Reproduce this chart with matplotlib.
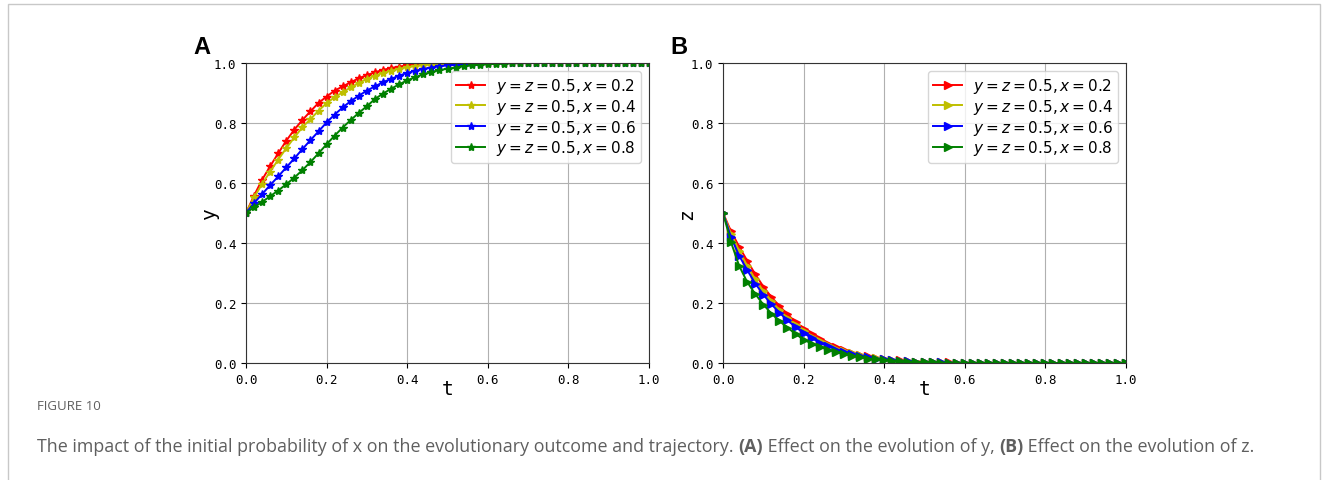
import numpy as np
import matplotlib
matplotlib.use("Agg")
import matplotlib.pyplot as plt
from matplotlib.patches import Rectangle

# time grid (step 0.02)
t = np.round(np.arange(51) * 0.02, 2)

# evolution of y for different initial x
y_x02 = [0.5, 0.558, 0.611, 0.656, 0.699, 0.741, 0.778, 0.810, 0.839, 0.867, 0.888,
         0.908, 0.922, 0.936, 0.949, 0.960, 0.969, 0.977, 0.983, 0.988, 0.992, 0.994,
         0.996, 0.997, 0.998, 0.999, 0.999] + [1.0] * 24
y_x04 = [0.5, 0.552, 0.597, 0.638, 0.678, 0.716, 0.752, 0.786, 0.813, 0.841, 0.866,
         0.886, 0.902, 0.919, 0.933, 0.947, 0.958, 0.967, 0.974, 0.981, 0.986, 0.990,
         0.993, 0.995, 0.997, 0.998, 0.999, 0.999] + [1.0] * 23
y_x06 = [0.5, 0.533, 0.563, 0.593, 0.622, 0.652, 0.682, 0.713, 0.743, 0.772, 0.802,
         0.828, 0.852, 0.873, 0.891, 0.908, 0.922, 0.936, 0.947, 0.958, 0.967, 0.974,
         0.980, 0.985, 0.989, 0.992, 0.994, 0.996, 0.997, 0.998, 0.999, 0.999] + [1.0] * 19
y_x08 = [0.5, 0.519, 0.537, 0.556, 0.575, 0.596, 0.618, 0.643, 0.670, 0.699, 0.729,
         0.758, 0.785, 0.810, 0.834, 0.856, 0.880, 0.898, 0.914, 0.929, 0.942, 0.953,
         0.962, 0.970, 0.976, 0.981, 0.985, 0.989, 0.992, 0.994, 0.996, 0.997, 0.998,
         0.999, 0.999] + [1.0] * 16

# evolution of z for different initial x
z_x02 = [0.5, 0.439, 0.388, 0.341, 0.296, 0.255, 0.220, 0.190, 0.162, 0.137, 0.115,
         0.096, 0.079, 0.065, 0.053, 0.043, 0.035, 0.028, 0.023, 0.018, 0.014, 0.011,
         0.009, 0.007, 0.005, 0.004, 0.003, 0.002, 0.002, 0.001, 0.001] + [0.0] * 20
z_x04 = [0.5, 0.430, 0.374, 0.324, 0.279, 0.240, 0.207, 0.176, 0.149, 0.126, 0.106,
         0.088, 0.072, 0.059, 0.048, 0.039, 0.032, 0.026, 0.021, 0.017, 0.013, 0.010,
         0.008, 0.006, 0.005, 0.004, 0.003, 0.002, 0.001, 0.001] + [0.0] * 21
z_x06 = [0.5, 0.419, 0.358, 0.310, 0.265, 0.228, 0.196, 0.168, 0.142, 0.120, 0.100,
         0.083, 0.068, 0.056, 0.045, 0.037, 0.030, 0.024, 0.019, 0.015, 0.012, 0.009,
         0.007, 0.006, 0.004, 0.003, 0.002, 0.002, 0.001, 0.001] + [0.0] * 21
z_x08 = [0.5, 0.402, 0.324, 0.270, 0.230, 0.195, 0.165, 0.140, 0.118, 0.097, 0.078,
         0.065, 0.054, 0.045, 0.037, 0.030, 0.024, 0.019, 0.015, 0.012, 0.010, 0.008,
         0.006, 0.005, 0.004, 0.003, 0.002, 0.001, 0.001] + [0.0] * 22

labels = [r"$y=z=0.5,x=0.2$", r"$y=z=0.5,x=0.4$",
          r"$y=z=0.5,x=0.6$", r"$y=z=0.5,x=0.8$"]
colors = ["r", "y", "b", "g"]
ticks = [0.0, 0.2, 0.4, 0.6, 0.8, 1.0]
tick_labels = ["0.0", "0.2", "0.4", "0.6", "0.8", "1.0"]

W, H = 1327, 481
fig = plt.figure(figsize=(W / 100, H / 100), dpi=100)
fig.patch.set_facecolor("white")

# outer frame
fig.add_artist(Rectangle((8 / W, -0.05), (1320 - 8) / W, 1.05 - 5 / H,
                         transform=fig.transFigure, fill=False,
                         edgecolor="#c8c8c8", linewidth=1.0))


def make_panel(left_px, series, marker, ylabel, letter):
    ax = fig.add_axes([left_px / W, 1 - 364 / H, 403 / W, 300 / H])
    for vals, c, lab in zip(series, colors, labels):
        ax.plot(t, vals, color=c, marker=marker, markersize=6, linewidth=1.4,
                label=lab)
    ax.set_xlim(0, 1)
    ax.set_ylim(0, 1)
    ax.set_xticks(ticks)
    ax.set_yticks(ticks)
    ax.set_xticklabels(tick_labels, family="DejaVu Sans Mono", fontsize=9)
    ax.set_yticklabels(tick_labels, family="DejaVu Sans Mono", fontsize=9)
    ax.grid(True, color="#b0b0b0", linewidth=0.8)
    ax.set_axisbelow(True)
    ax.set_xlabel("t", family="DejaVu Sans Mono", fontsize=14, labelpad=-5)
    ax.set_ylabel(ylabel, family="DejaVu Sans Mono", fontsize=14, labelpad=-4)
    for s in ax.spines.values():
        s.set_color("#333333")
    ax.legend(loc="upper right", fontsize=11, borderaxespad=0.5,
              handlelength=1.9, handletextpad=0.7, labelspacing=0.12,
              borderpad=0.35)
    fig.text((left_px - 53) / W, 1 - 47 / H, letter, fontsize=17,
             fontweight="bold", family="Liberation Sans", ha="left", va="center")
    return ax


make_panel(246, [y_x02, y_x04, y_x06, y_x08], "*", "y", "A")
make_panel(723, [z_x02, z_x04, z_x06, z_x08], ">", "z", "B")

# caption
cap_color = "#5f5f5f"
fig.text(37 / W, 1 - 406 / H, "FIGURE 10", fontsize=9.5, family="Open Sans",
         color=cap_color, ha="left", va="center")

segments = [
    ("The impact of the initial probability of x on the evolutionary outcome and trajectory. ", "normal"),
    ("(A)", "bold"),
    (" Effect on the evolution of y, ", "normal"),
    ("(B)", "bold"),
    (" Effect on the evolution of z.", "normal"),
]

fig.canvas.draw()
renderer = fig.canvas.get_renderer()


def draw_caption(size, draw=True):
    x = 37.0
    arts = []
    for txt, wt in segments:
        a = fig.text(x / W, 1 - 447 / H, txt, fontsize=size, family="Open Sans",
                     fontweight=wt, color=cap_color, ha="left", va="center")
        bb = a.get_window_extent(renderer=renderer)
        x += bb.width
        arts.append(a)
    if not draw:
        for a in arts:
            a.remove()
    return x


end = draw_caption(12, draw=False)
size = 12 * (1250 - 37) / (end - 37)
draw_caption(size)

fig.savefig("out.png", dpi=100, facecolor="white")
